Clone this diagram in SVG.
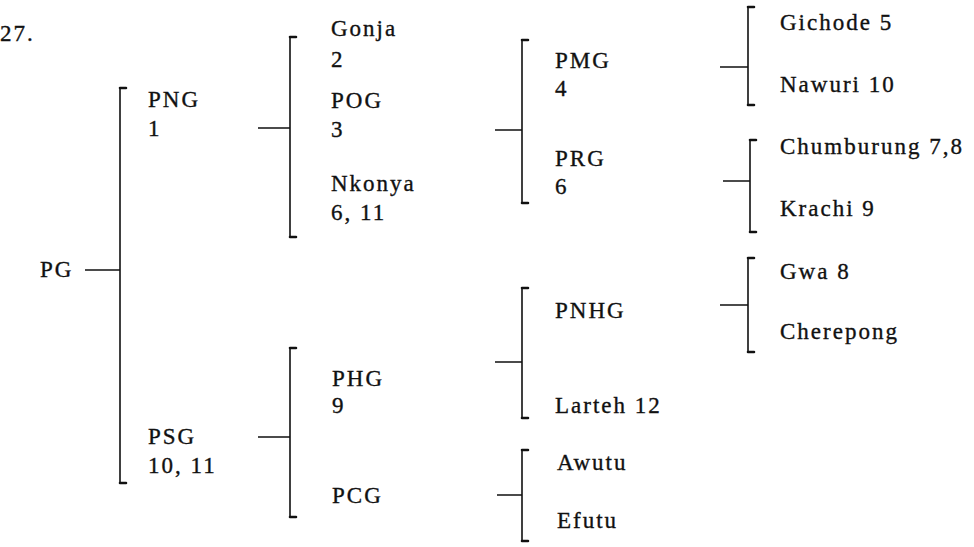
<svg xmlns="http://www.w3.org/2000/svg" width="974" height="547" viewBox="0 0 974 547" font-family="Liberation Serif, Times New Roman, DejaVu Serif, serif">
<style>
text{font-size:23px;letter-spacing:2px;fill:#111;stroke:#111;stroke-width:0.35}
.ln{fill:none;stroke:#111;stroke-width:1.6}
.tk{fill:none;stroke:#111;stroke-width:2.6;stroke-linecap:round}
</style>
<rect width="974" height="547" fill="#fff"/>
<g id="title"><text x="0" y="41" font-family="Liberation Serif">27.</text></g>
<g id="connectors">
<path class="ln" d="M85,270H120M120,88V483M258,128H290M290,37V237M258,437H290M290,348V517M495,130H522M522,40V203M720,67H748M748,7V105M723,181H750M750,140V232M720,305H748M748,258V352M495,362H522M522,288V418M497,495H522M522,450V541"/>
<path class="tk" d="M120,88H126M120,483H126M290,37H296M290,237H296M290,348H296M290,517H296M522,40H528M522,203H528M748,7H754M748,105H754M750,140H756M750,232H756M748,258H754M748,352H754M522,288H528M522,418H528M522,450H528M522,541H528"/>
</g>
<g id="PG"><text x="40" y="277">PG</text></g>
<g id="PNG"><text x="148" y="107">PNG</text><text x="148" y="136">1</text></g>
<g id="PSG"><text x="148" y="444">PSG</text><text x="148" y="473">10, 11</text></g>
<g id="Gonja"><text x="331" y="36">Gonja</text><text x="331" y="67">2</text></g>
<g id="POG"><text x="331" y="108">POG</text><text x="331" y="137">3</text></g>
<g id="Nkonya"><text x="331" y="191">Nkonya</text><text x="331" y="220">6, 11</text></g>
<g id="PHG"><text x="332" y="386">PHG</text><text x="332" y="413">9</text></g>
<g id="PCG"><text x="332" y="503">PCG</text></g>
<g id="PMG"><text x="555" y="68">PMG</text><text x="555" y="96">4</text></g>
<g id="PRG"><text x="555" y="166">PRG</text><text x="555" y="194">6</text></g>
<g id="PNHG"><text x="555" y="318">PNHG</text></g>
<g id="Larteh"><text x="555" y="413">Larteh 12</text></g>
<g id="Awutu"><text x="557" y="470">Awutu</text></g>
<g id="Efutu"><text x="557" y="528">Efutu</text></g>
<g id="Gichode"><text x="780" y="30">Gichode 5</text></g>
<g id="Nawuri"><text x="780" y="92">Nawuri 10</text></g>
<g id="Chumburung"><text x="780" y="154">Chumburung 7,8</text></g>
<g id="Krachi"><text x="780" y="216">Krachi 9</text></g>
<g id="Gwa"><text x="780" y="279">Gwa 8</text></g>
<g id="Cherepong"><text x="780" y="339">Cherepong</text></g>
</svg>
